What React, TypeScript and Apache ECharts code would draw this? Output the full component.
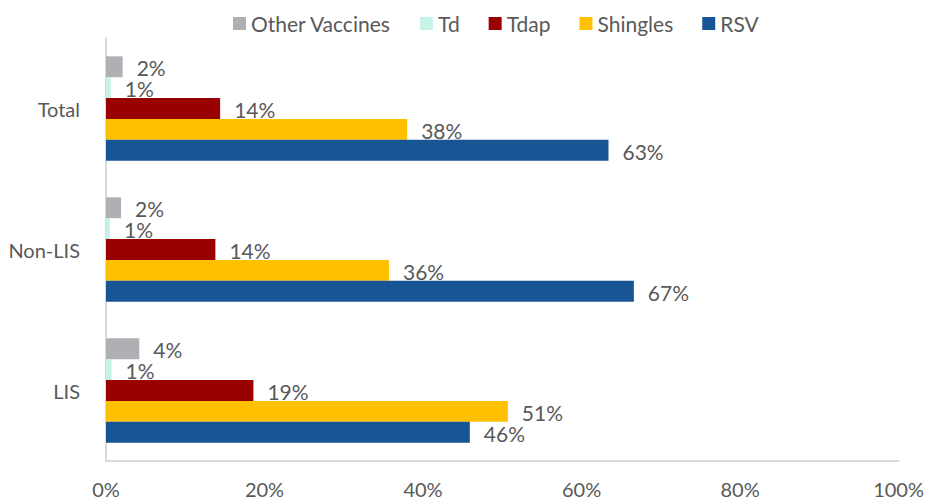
import React, { useEffect, useRef } from "react";
import * as echarts from "echarts";

const categories = ["LIS", "Non-LIS", "Total"];
const seriesNames = ["Other Vaccines", "Td", "Tdap", "Shingles", "RSV"];
const otherVaccines = [4.2, 1.9, 2.1];
const td = [0.7, 0.5, 0.6];
const tdap = [18.6, 13.8, 14.4];
const shingles = [50.7, 35.7, 38.0];
const rsv = [45.9, 66.6, 63.4];
const xTicks = [0, 20, 40, 60, 80, 100];
const colors: Record<string, string> = {
  "Other Vaccines": "#AEB0B4",
  Td: "#C5F3E8",
  Tdap: "#990000",
  Shingles: "#FFC000",
  RSV: "#185594",
};

const FONT = "Lato, 'Open Sans', sans-serif";
const TXT = "#595959";
const FS = 21;
const AFS = 20;

export default function App() {
  const ref = useRef<HTMLDivElement>(null);
  useEffect(() => {
    document.body.style.margin = "0";
    const chart = echarts.init(ref.current!, null, { renderer: "svg" });
    const dataMap: Record<string, number[]> = {
      "Other Vaccines": otherVaccines,
      Td: td,
      Tdap: tdap,
      Shingles: shingles,
      RSV: rsv,
    };
    chart.setOption({
      animation: false,
      textStyle: { fontFamily: FONT },
      legend: {
        data: seriesNames,
        top: 8,
        left: 228,
        itemWidth: 13,
        itemHeight: 13,
        itemGap: 29,
        icon: "rect",
        textStyle: { fontSize: FS, color: TXT, fontFamily: FONT },
      },
      grid: { left: 106, right: 27, top: 38, bottom: 41, containLabel: false },
      xAxis: {
        type: "value",
        min: xTicks[0],
        max: xTicks[xTicks.length - 1],
        interval: 20,
        splitLine: { show: false },
        axisTick: { show: false },
        axisLine: { show: true, lineStyle: { color: "#D9D9D9", width: 2 } },
        axisLabel: {
          margin: 18,
          fontSize: AFS,
          color: TXT,
          fontFamily: FONT,
          formatter: (v: number) => `${v}%`,
        },
      },
      yAxis: {
        type: "category",
        data: categories,
        axisTick: { show: false },
        axisLine: { show: true, lineStyle: { color: "#D9D9D9", width: 2 } },
        axisLabel: { margin: 26, fontSize: AFS, color: TXT, fontFamily: FONT },
      },
      series: seriesNames.map((name) => ({
        name,
        type: "bar",
        data: dataMap[name],
        barGap: "0%",
        barCategoryGap: "26%",
        itemStyle: { color: colors[name] },
        label: {
          show: true,
          position: "right",
          distance: 14,
          offset: [0, 1],
          fontSize: FS,
          color: TXT,
          fontFamily: FONT,
          formatter: (p: any) => `${Math.round(p.value)}%`,
        },
      })),
    });
    return () => chart.dispose();
  }, []);
  return <div ref={ref} style={{ width: 927, height: 502 }} />;
}
